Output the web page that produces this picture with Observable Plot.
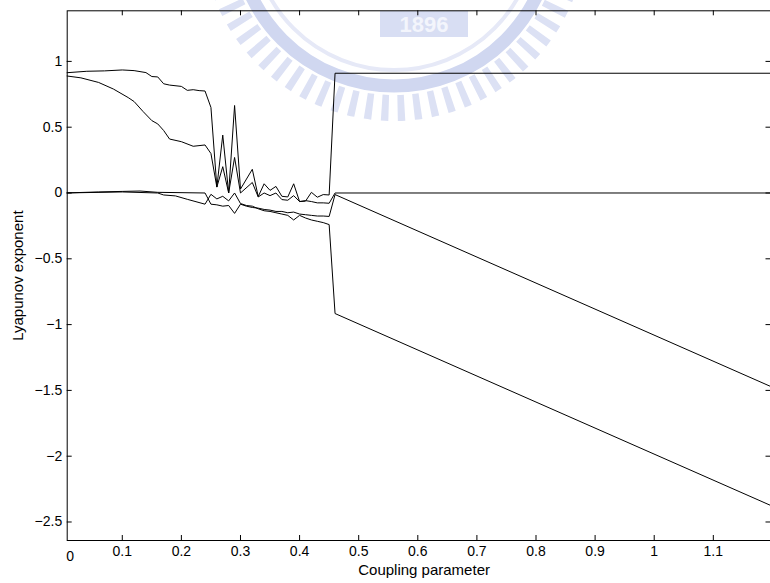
<!DOCTYPE html>
<html>
<head>
<meta charset="utf-8">
<script src="https://cdn.jsdelivr.net/npm/d3@7"></script>
<script src="https://cdn.jsdelivr.net/npm/@observablehq/plot@0.6"></script>
<style>
  html, body { margin: 0; padding: 0; background: #fff; }
  #chart { width: 770px; height: 583px; }
</style>
</head>
<body>
<div id="chart"></div>
<script>
// Lyapunov exponents of the coupled system versus coupling strength
const lambda1X = [0, 0.04, 0.07, 0.10, 0.12, 0.14, 0.15, 0.16, 0.17, 0.18, 0.20, 0.21, 0.22, 0.23, 0.24, 0.25, 0.26, 0.27, 0.28, 0.29, 0.30, 0.32, 0.33, 0.34, 0.35, 0.36, 0.37, 0.38, 0.39, 0.40, 0.41, 0.42, 0.43, 0.44, 0.45, 0.46, 1.2];
const lambda1 = [0.912, 0.925, 0.928, 0.935, 0.93, 0.915, 0.885, 0.882, 0.83, 0.82, 0.81, 0.78, 0.785, 0.778, 0.775, 0.65, 0.045, 0.44, 0.0, 0.665, 0.03, 0.18, -0.027, 0.07, 0.02, 0.05, -0.025, -0.03, 0.07, -0.065, -0.062, 0.005, -0.032, -0.012, -0.015, 0.91, 0.91];

const lambda2X = [0, 0.03, 0.06, 0.085, 0.11, 0.12, 0.135, 0.15, 0.16, 0.17, 0.18, 0.20, 0.22, 0.24, 0.25, 0.26, 0.27, 0.28, 0.29, 0.30, 0.32, 0.33, 0.34, 0.35, 0.36, 0.37, 0.38, 0.39, 0.40, 0.41, 0.42, 0.43, 0.44, 0.45, 0.46, 1.2];
const lambda2 = [0.893, 0.875, 0.84, 0.79, 0.725, 0.695, 0.62, 0.55, 0.525, 0.475, 0.41, 0.39, 0.355, 0.365, 0.30, 0.045, 0.2, 0.0, 0.27, 0.0, 0.08, -0.03, 0.0, -0.02, 0.0, -0.05, -0.055, -0.02, -0.065, -0.058, -0.065, -0.075, -0.075, -0.078, 0, 0];

const lambda3X = [0, 0.06, 0.10, 0.13, 0.16, 0.24, 0.25, 0.26, 0.27, 0.28, 0.29, 0.30, 0.31, 0.32, 0.33, 0.34, 0.35, 0.36, 0.37, 0.38, 0.39, 0.40, 0.41, 0.42, 0.43, 0.44, 0.45, 0.46, 1.2];
const lambda3 = [0, 0.008, 0.012, 0.015, 0.005, 0, -0.085, -0.09, -0.1, -0.095, -0.155, -0.085, -0.1, -0.11, -0.115, -0.125, -0.13, -0.14, -0.14, -0.15, -0.145, -0.16, -0.165, -0.17, -0.175, -0.175, -0.178, -0.012, -1.476];

const lambda4X = [0, 0.10, 0.16, 0.17, 0.19, 0.21, 0.24, 0.25, 0.26, 0.27, 0.28, 0.29, 0.30, 0.31, 0.32, 0.33, 0.34, 0.35, 0.36, 0.37, 0.38, 0.39, 0.40, 0.41, 0.42, 0.43, 0.44, 0.45, 0.46, 1.2];
const lambda4 = [0, 0.008, 0, -0.015, -0.022, -0.048, -0.085, -0.01, -0.045, -0.025, -0.06, 0.0, -0.08, -0.095, -0.1, -0.12, -0.135, -0.14, -0.15, -0.16, -0.17, -0.205, -0.17, -0.19, -0.205, -0.215, -0.225, -0.24, -0.916, -2.38];

const xTicks = [0.1, 0.2, 0.3, 0.4, 0.5, 0.6, 0.7, 0.8, 0.9, 1, 1.1];
const yTicks = [-2.5, -2, -1.5, -1, -0.5, 0, 0.5, 1];
const xDomain = [0.0068, 1.1976];
const yDomain = [-2.6406, 1.3845];

const series = [
  [lambda1X, lambda1],
  [lambda2X, lambda2],
  [lambda3X, lambda3],
  [lambda4X, lambda4]
].map(([xs, ys]) => xs.map((x, i) => ({x, y: ys[i]})));

const W = 770, H = 583;
const mL = 66.7, mR = -0.5, mT = 10.3, mB = 43;
const plotW = W - mL - mR, plotH = H - mT - mB;
const font = "'Liberation Sans', Arial, Helvetica, sans-serif";
const tickFmt = d3.format("~g");

const chart = Plot.plot({
  width: W,
  height: H,
  marginLeft: mL,
  marginRight: mR,
  marginTop: mT,
  marginBottom: mB,
  style: {fontFamily: font, fontSize: "14px", background: "#fff", color: "#000", overflow: "visible"},
  x: {domain: xDomain},
  y: {domain: yDomain},
  marks: [
    // inward tick marks on all four sides
    Plot.tickX(xTicks, {x: d => d, stroke: "#000", insetTop: plotH - 5}),
    Plot.tickX(xTicks, {x: d => d, stroke: "#000", insetBottom: plotH - 5}),
    Plot.tickY(yTicks, {y: d => d, stroke: "#000", insetRight: plotW - 5}),
    Plot.tickY(yTicks, {y: d => d, stroke: "#000", insetLeft: plotW - 5}),
    Plot.axisX(xTicks, {tickSize: 0, tickPadding: 6, fontSize: 14, tickFormat: tickFmt, label: null}),
    Plot.axisY(yTicks, {tickSize: 0, tickPadding: 5, fontSize: 14, tickFormat: tickFmt, label: null}),
    Plot.text([0], {x: d => d, text: d => tickFmt(d), frameAnchor: "bottom", lineAnchor: "top", dy: 11, dx: 7, fontSize: 14}),
    Plot.text(["Coupling parameter"], {frameAnchor: "bottom", lineAnchor: "top", dy: 24, dx: 5, fontSize: 15}),
    Plot.text(["Lyapunov exponent"], {frameAnchor: "left", textAnchor: "middle", rotate: -90, dx: -48.7, fontSize: 15}),
    ...series.map(data => Plot.line(data, {x: "x", y: "y", stroke: "#000", strokeWidth: 1, clip: true})),
    Plot.frame({stroke: "#000"})
  ]
});

// faint institutional emblem printed behind the plot
const svg = d3.select(chart);
const emblem = svg.insert("g", "g").attr("pointer-events", "none");
const cx = 394, cy = -72;
emblem.append("circle").attr("cx", cx).attr("cy", cy).attr("r", 180)
  .attr("fill", "none").attr("stroke", "#dce1f4").attr("stroke-width", 26)
  .attr("stroke-dasharray", "7 9");
emblem.append("circle").attr("cx", cx).attr("cy", cy).attr("r", 158)
  .attr("fill", "none").attr("stroke", "#d0d7f0").attr("stroke-width", 13);
emblem.append("circle").attr("cx", cx).attr("cy", cy).attr("r", 142)
  .attr("fill", "none").attr("stroke", "#e6e9f7").attr("stroke-width", 4);
emblem.append("rect").attr("x", 380).attr("y", 11).attr("width", 88).attr("height", 26)
  .attr("fill", "#d8def3");
emblem.append("text").attr("x", 424).attr("y", 32).attr("text-anchor", "middle")
  .attr("font-family", font).attr("font-weight", "bold").attr("font-size", 22)
  .attr("fill", "#f3f5fc").text("1896");

document.getElementById("chart").appendChild(chart);
</script>
</body>
</html>
